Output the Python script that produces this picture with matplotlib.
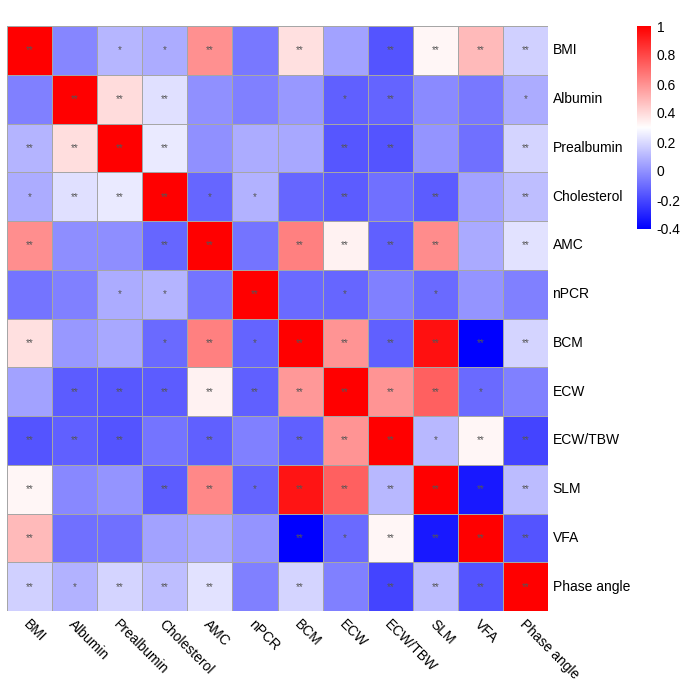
import numpy as np
import matplotlib
matplotlib.use("Agg")
import matplotlib.pyplot as plt
from matplotlib.colors import LinearSegmentedColormap, Normalize

plt.rcParams['font.family'] = ['Liberation Sans', 'DejaVu Sans']

labels = ["BMI", "Albumin", "Prealbumin", "Cholesterol", "AMC", "nPCR",
          "BCM", "ECW", "ECW/TBW", "SLM", "VFA", "Phase angle"]

corr = np.array([
    [1.00, -0.03, 0.10, 0.075, 0.605, -0.07, 0.385, 0.047, -0.167, 0.327, 0.487, 0.171],
    [-0.05, 1.00, 0.393, 0.215, -0.005, -0.05, 0.02, -0.136, -0.125, -0.021, -0.07, 0.075],
    [0.097, 0.39, 1.00, 0.245, -0.005, 0.075, 0.061, -0.161, -0.167, 0.006, -0.093, 0.185],
    [0.075, 0.215, 0.245, 1.00, -0.12, 0.091, -0.12, -0.147, -0.093, -0.147, 0.047, 0.124],
    [0.607, -0.007, -0.007, -0.12, 1.00, -0.079, 0.649, 0.333, -0.136, 0.616, 0.069, 0.22],
    [-0.079, -0.05, 0.075, 0.097, -0.079, 1.00, -0.109, -0.12, -0.05, -0.109, 0.006, -0.05],
    [0.385, 0.02, 0.061, -0.109, 0.649, -0.125, 1.00, 0.594, -0.136, 0.956, -0.40, 0.185],
    [0.047, -0.147, -0.158, -0.147, 0.333, -0.136, 0.58, 1.00, 0.594, 0.736, -0.109, -0.05],
    [-0.167, -0.136, -0.167, -0.079, -0.136, -0.05, -0.136, 0.594, 1.00, 0.105, 0.327, -0.213],
    [0.327, -0.027, 0.006, -0.147, 0.627, -0.125, 0.942, 0.736, 0.105, 1.00, -0.329, 0.116],
    [0.487, -0.093, -0.093, 0.047, 0.069, 0.006, -0.40, -0.109, 0.327, -0.329, 1.00, -0.167],
    [0.171, 0.091, 0.185, 0.124, 0.22, -0.05, 0.185, -0.05, -0.213, 0.116, -0.167, 1.00],
])

stars = [
    ["**", "", "*", "*", "**", "", "**", "", "**", "**", "**", "**"],
    ["", "**", "**", "**", "", "", "", "*", "**", "", "", "*"],
    ["**", "**", "**", "**", "", "", "", "**", "**", "", "", "**"],
    ["*", "**", "**", "**", "*", "*", "", "**", "", "**", "", "**"],
    ["**", "", "", "**", "**", "", "**", "**", "**", "**", "", "**"],
    ["", "", "*", "*", "", "**", "", "*", "", "*", "", ""],
    ["**", "", "", "*", "**", "*", "**", "**", "**", "**", "**", "**"],
    ["", "**", "**", "**", "**", "**", "**", "**", "**", "**", "*", ""],
    ["**", "**", "**", "", "**", "", "**", "**", "**", "*", "**", "**"],
    ["**", "", "", "**", "**", "*", "**", "**", "**", "**", "**", "**"],
    ["**", "", "", "", "", "", "**", "*", "**", "**", "**", "**"],
    ["**", "*", "**", "**", "**", "", "**", "", "**", "**", "**", "**"],
]

cbar_ticks = [-0.4, -0.2, 0, 0.2, 0.4, 0.6, 0.8, 1]
cbar_ticklabels = ["-0.4", "-0.2", "0", "0.2", "0.4", "0.6", "0.8", "1"]

vmin, vmax = -0.4, 1.0
cmap = LinearSegmentedColormap.from_list("bwr2", ["#0000FF", "#FFFFFF", "#FF0000"], N=256)
norm = Normalize(vmin=vmin, vmax=vmax)

W = H = 685
fig = plt.figure(figsize=(6.85, 6.85), dpi=100)
left, right, top, bottom = 7, 548, 26, 611
ax = fig.add_axes([left / W, 1 - bottom / H, (right - left) / W, (bottom - top) / H])
n = len(labels)
ax.pcolormesh(np.arange(n + 1), np.arange(n + 1), corr, cmap=cmap, norm=norm,
              edgecolors="#A6A6A6", linewidth=0.6)
ax.set_xlim(0, n)
ax.set_ylim(n, 0)
for s in ax.spines.values():
    s.set_visible(False)
ax.set_xticks([])
ax.set_yticks([])

for i in range(n):
    for j in range(n):
        if stars[i][j]:
            ax.text(j + 0.5, i + 0.5, stars[i][j], ha="center", va="center",
                    fontsize=7, color="#555555")

for i, lab in enumerate(labels):
    ax.text(n + 0.1, i + 0.5, lab, ha="left", va="center", fontsize=10, color="black")
    ax.text(i + 0.42, n + 0.22, lab, ha="left", va="center", fontsize=10, color="black",
            rotation=-45, rotation_mode="anchor")

cax = fig.add_axes([637 / W, 1 - 229 / H, 14 / W, 203 / H])
grad = np.linspace(vmin, vmax, 256).reshape(-1, 1)
cax.imshow(grad, aspect="auto", cmap=cmap, norm=norm, origin="lower",
           extent=[0, 1, vmin, vmax])
cax.set_xticks([])
cax.yaxis.tick_right()
cax.set_yticks(cbar_ticks)
cax.set_yticklabels(cbar_ticklabels, fontsize=10)
cax.tick_params(axis="y", length=0, pad=4)
for s in cax.spines.values():
    s.set_visible(False)

fig.savefig("out.png", dpi=100)
